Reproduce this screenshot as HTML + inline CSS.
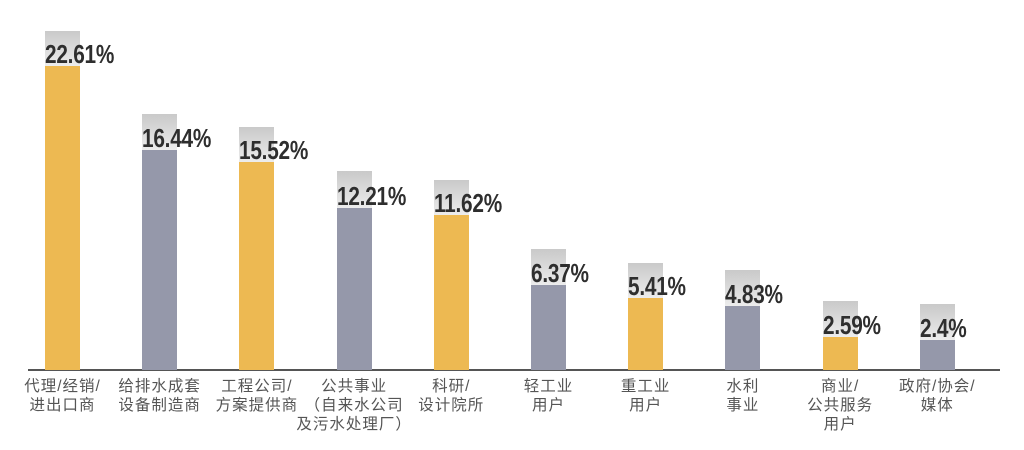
<!DOCTYPE html>
<html><head><meta charset="utf-8"><style>
body{margin:0;width:1024px;height:450px;background:#fff;position:relative;overflow:hidden;font-family:"Liberation Sans","Noto Sans CJK SC",sans-serif}
.cap{position:absolute;width:35px;background:linear-gradient(#c9c9c9,#ececec)}
.bar{position:absolute;width:35px}
.v{position:absolute;font-weight:bold;font-size:26px;color:#2e2e2e;transform:scaleX(0.8);transform-origin:left top;letter-spacing:-0.3px;line-height:25px}
.lab{position:absolute;top:377px;width:120px;text-align:center;font-size:15.5px;line-height:19px;color:#555;letter-spacing:1px}
.axis{position:absolute;left:28px;top:369px;width:972px;height:1.5px;background:#555}
</style></head><body>
<div class="axis"></div>
<script>
const d=[[22.61,31,66,'代理/经销/<br>进出口商'],[16.44,114,150,'给排水成套<br>设备制造商'],[15.52,127,162,'工程公司/<br>方案提供商'],[12.21,171,208,'公共事业<br>（自来水公司<br>及污水处理厂）'],[11.62,180,215,'科研/<br>设计院所'],[6.37,249,285,'轻工业<br>用户'],[5.41,263,298,'重工业<br>用户'],[4.83,270,306,'水利<br>事业'],[2.59,301,337,'商业/<br>公共服务<br>用户'],[2.4,304,340,'政府/协会/<br>媒体']];
let h='';
d.forEach((e,i)=>{const x=45+i*97.2;const c=i%2?'#9598aa':'#edb952';
h+=`<div class="cap" style="left:${x}px;top:${e[1]}px;height:${e[2]-e[1]}px"></div>`;
h+=`<div class="bar" style="left:${x}px;top:${e[2]}px;height:${370-e[2]}px;background:${c}"></div>`;
h+=`<div class="v" style="left:${x}px;top:${e[2]-24}px">${e[0]}%</div>`;
h+=`<div class="lab" style="left:${x+17.5-60}px">${e[3]}</div>`;});
document.write(h);
</script>
</body></html>
